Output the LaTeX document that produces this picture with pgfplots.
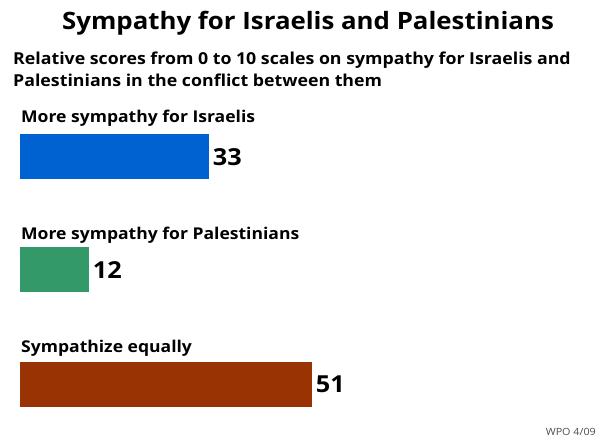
\documentclass[border=0pt]{standalone}
\usepackage{pgfplots}
\pgfplotsset{compat=1.18}
\usepackage{fontspec}
\setmainfont{Open Sans}[FakeStretch=1.08]
\definecolor{cblue}{RGB}{0,98,208}
\definecolor{cgreen}{RGB}{52,153,104}
\definecolor{cbrown}{RGB}{153,51,4}
\begin{document}
\begin{tikzpicture}[x=1bp,y=1bp]
\useasboundingbox (0,0) rectangle (602,442);
\begin{axis}[
  at={(0,0)}, anchor=south west,
  scale only axis, width=602bp, height=442bp,
  xmin=-3.4965, xmax=101.75, ymin=0, ymax=442, y dir=reverse,
  axis lines=none, ticks=none,
  xbar, bar width=45, bar shift=0pt,
  /pgf/number format/assume math mode=true,
  nodes near coords,
  every node near coord/.append style={anchor=west, inner sep=0pt, xshift=4bp, font=\fontsize{23.5}{28}\selectfont\bfseries, text=black},
]
\addplot[fill=cblue, draw=none] coordinates {(33,156.7)};
\addplot[fill=cgreen, draw=none] coordinates {(12,269.8)};
\addplot[fill=cbrown, draw=none] coordinates {(51,384.2)};
\end{axis}
\node[anchor=base west, inner sep=0pt, font=\fontsize{24}{30}\selectfont\bfseries] at (62,442-30) {Sympathy for Israelis and Palestinians};
\node[anchor=base west, inner sep=0pt, font=\fontsize{16.5}{26}\selectfont\bfseries] at (13,442-65) {Relative scores from 0 to 10 scales on sympathy for Israelis and};
\node[anchor=base west, inner sep=0pt, font=\fontsize{16.5}{26}\selectfont\bfseries] at (13,442-87) {Palestinians in the conflict between them};
\node[anchor=base west, inner sep=0pt, font=\fontsize{16.3}{20}\selectfont\bfseries] at (21,442-123) {More sympathy for Israelis};
\node[anchor=base west, inner sep=0pt, font=\fontsize{16.3}{20}\selectfont\bfseries] at (21,442-240) {More sympathy for Palestinians};
\node[anchor=base west, inner sep=0pt, font=\fontsize{16.3}{20}\selectfont\bfseries] at (21,442-353) {Sympathize equally};
\node[anchor=base east, inner sep=0pt, font=\fontsize{10}{12}\selectfont, text=black!70] at (596,442-436) {WPO 4/09};
\end{tikzpicture}
\end{document}
